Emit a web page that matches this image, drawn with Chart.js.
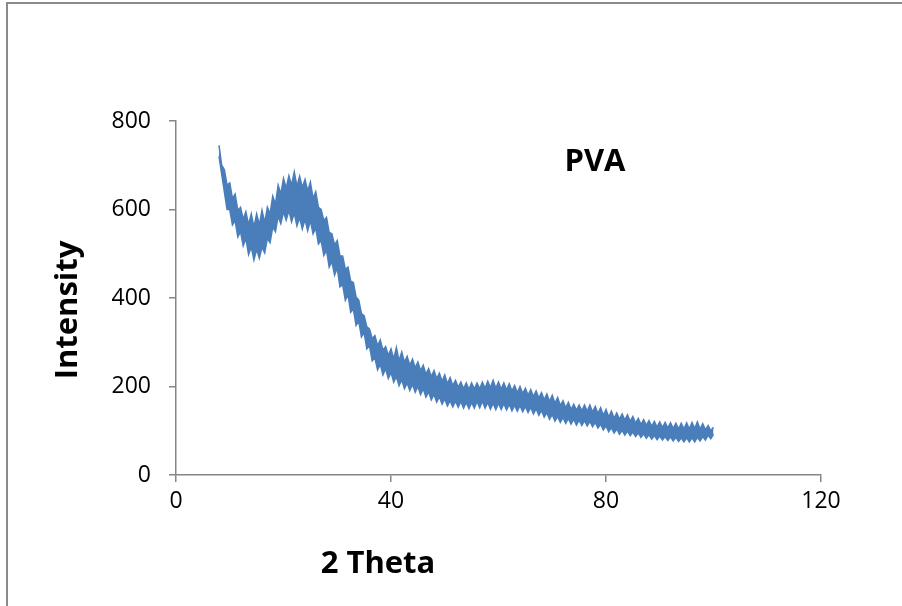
<!DOCTYPE html>
<html>
<head>
<meta charset="utf-8">
<script src="https://cdn.jsdelivr.net/npm/chart.js@4.4.1/dist/chart.umd.min.js"></script>
<style>
  body { margin: 0; background: #fff; }
  #wrap { position: relative; width: 902px; height: 606px; }
  #frame { position: absolute; left: 6px; top: 2px; right: 0; bottom: -4px; border-left: 2px solid #8a8a8a; border-top: 2px solid #8a8a8a; pointer-events: none; }
  canvas { position: absolute; left: 0; top: 0; }
</style>
</head>
<body>
<div id="wrap">
  <canvas id="xrdCanvas" width="902" height="606"></canvas>
  <div id="frame"></div>
</div>
<script>
// 2 theta (deg), every half degree
const theta = [
  8, 8.5, 9, 9.5, 10, 10.5, 11, 11.5, 12, 12.5, 13, 13.5, 14, 14.5, 15, 15.5, 16, 16.5, 17, 17.5,
  18, 18.5, 19, 19.5, 20, 20.5, 21, 21.5, 22, 22.5, 23, 23.5, 24, 24.5, 25, 25.5, 26, 26.5, 27, 27.5,
  28, 28.5, 29, 29.5, 30, 30.5, 31, 31.5, 32, 32.5, 33, 33.5, 34, 34.5, 35, 35.5, 36, 36.5, 37, 37.5,
  38, 38.5, 39, 39.5, 40, 40.5, 41, 41.5, 42, 42.5, 43, 43.5, 44, 44.5, 45, 45.5, 46, 46.5, 47, 47.5,
  48, 48.5, 49, 49.5, 50, 50.5, 51, 51.5, 52, 52.5, 53, 53.5, 54, 54.5, 55, 55.5, 56, 56.5, 57, 57.5,
  58, 58.5, 59, 59.5, 60, 60.5, 61, 61.5, 62, 62.5, 63, 63.5, 64, 64.5, 65, 65.5, 66, 66.5, 67, 67.5,
  68, 68.5, 69, 69.5, 70, 70.5, 71, 71.5, 72, 72.5, 73, 73.5, 74, 74.5, 75, 75.5, 76, 76.5, 77, 77.5,
  78, 78.5, 79, 79.5, 80, 80.5, 81, 81.5, 82, 82.5, 83, 83.5, 84, 84.5, 85, 85.5, 86, 86.5, 87, 87.5,
  88, 88.5, 89, 89.5, 90, 90.5, 91, 91.5, 92, 92.5, 93, 93.5, 94, 94.5, 95, 95.5, 96, 96.5, 97, 97.5,
  98, 98.5, 99, 99.5, 100
];

// upper edge of the noisy intensity band
const intensityHigh = [
  745, 700, 690, 655, 660, 625, 635, 598, 605, 578, 595, 565, 590, 560, 590, 565, 598, 570, 605, 590,
  630, 612, 655, 635, 670, 648, 676, 655, 685, 652, 675, 650, 668, 642, 662, 625, 640, 605, 600, 575,
  582, 548, 545, 520, 530, 495, 495, 465, 470, 438, 435, 402, 395, 365, 360, 335, 330, 308, 315, 292,
  305, 282, 290, 270, 285, 262, 288, 258, 278, 255, 268, 248, 262, 242, 255, 236, 248, 228, 240, 222,
  236, 218, 230, 212, 226, 206, 220, 202, 214, 198, 210, 195, 208, 193, 208, 194, 208, 195, 210, 196,
  212, 197, 214, 196, 210, 194, 208, 192, 206, 190, 202, 186, 200, 184, 196, 180, 193, 177, 190, 174,
  186, 170, 183, 166, 180, 162, 175, 157, 168, 152, 164, 148, 160, 146, 158, 145, 158, 144, 158, 142,
  155, 139, 152, 135, 148, 131, 144, 128, 140, 126, 138, 124, 136, 121, 132, 117, 128, 114, 125, 112,
  123, 110, 121, 108, 120, 107, 119, 106, 118, 105, 117, 104, 117, 104, 118, 104, 119, 105, 120, 104,
  116, 102, 112, 100, 108
];

// lower edge of the noisy intensity band
const intensityLow = [
  720, 680, 640, 600, 600, 565, 575, 538, 550, 518, 535, 498, 515, 486, 510, 490, 515, 502, 535, 525,
  560, 550, 585, 568, 595, 576, 598, 572, 592, 563, 582, 556, 578, 552, 575, 545, 558, 522, 530, 496,
  508, 470, 482, 452, 468, 425, 430, 395, 408, 368, 375, 338, 348, 312, 322, 285, 292, 258, 265, 238,
  250, 226, 240, 218, 232, 210, 222, 202, 215, 195, 208, 191, 205, 187, 200, 182, 195, 176, 188, 170,
  182, 165, 177, 160, 172, 156, 168, 154, 167, 153, 166, 151, 164, 150, 164, 151, 166, 152, 167, 151,
  164, 149, 162, 148, 162, 148, 161, 147, 160, 145, 158, 144, 157, 143, 155, 141, 153, 138, 150, 135,
  146, 131, 141, 126, 137, 122, 132, 119, 130, 117, 128, 115, 126, 113, 124, 112, 123, 111, 121, 109,
  119, 106, 115, 102, 111, 98, 107, 95, 104, 92, 101, 90, 99, 89, 97, 87, 95, 85, 93, 83,
  91, 81, 89, 80, 88, 79, 87, 78, 86, 77, 85, 76, 84, 75, 84, 75, 84, 75, 85, 77,
  87, 79, 90, 82, 92
];

const xTicks = [0, 40, 80, 120];
const yTicks = [0, 200, 400, 600, 800];

const axisGrey = "#868686";
const lineBlue = "#4a7ebb";

const textPlugin = {
  id: "labels",
  afterDraw(chart) {
    const ctx = chart.ctx;
    ctx.save();
    ctx.fillStyle = "#000";
    ctx.font = "bold 31px 'Open Sans'";
    ctx.textAlign = "center";
    ctx.textBaseline = "middle";
    ctx.fillText("PVA", 595, 162);
    ctx.fillText("2 Theta", 378, 564);
    ctx.translate(68, 310);
    ctx.rotate(-Math.PI / 2);
    ctx.fillText("Intensity", 0, 0);
    ctx.restore();
  },
};

const data = {
  datasets: [
    {
      label: "PVA high",
      data: theta.map((t, i) => ({ x: t, y: intensityHigh[i] })),
      borderColor: lineBlue,
      borderWidth: 1.5,
      pointRadius: 0,
      tension: 0,
      fill: false,
    },
    {
      label: "PVA low",
      data: theta.map((t, i) => ({ x: t, y: intensityLow[i] })),
      borderColor: lineBlue,
      backgroundColor: lineBlue,
      borderWidth: 1.5,
      pointRadius: 0,
      tension: 0,
      fill: "-1",
    },
  ],
};

const config = {
  type: "line",
  data: data,
  options: {
    responsive: false,
    animation: false,
    layout: { padding: { left: 0, top: 121, right: 81, bottom: 0 } },
    plugins: {
      legend: { display: false },
      tooltip: { enabled: false },
    },
    scales: {
      x: {
        type: "linear",
        min: 0,
        max: 120,
        afterBuildTicks: (axis) => { axis.ticks = xTicks.map((v) => ({ value: v })); },
        afterFit: (axis) => { axis.height = 606 - 475; },
        border: { color: axisGrey, width: 1.5 },
        grid: { drawOnChartArea: false, drawTicks: true, tickLength: 7, color: axisGrey, lineWidth: 1.5 },
        ticks: { color: "#000", font: { family: "Open Sans", size: 23 }, padding: 6, maxRotation: 0 },
      },
      y: {
        min: 0,
        max: 800,
        afterBuildTicks: (axis) => { axis.ticks = yTicks.map((v) => ({ value: v })); },
        afterFit: (axis) => { axis.width = 176; },
        border: { color: axisGrey, width: 1.5 },
        grid: { drawOnChartArea: false, drawTicks: true, tickLength: 7, color: axisGrey, lineWidth: 1.5 },
        ticks: { color: "#000", font: { family: "Open Sans", size: 23 }, padding: 18 },
      },
    },
  },
  plugins: [textPlugin],
};

const canvas = document.getElementById("xrdCanvas");
if (canvas) {
  const ctx = canvas.getContext("2d");
  new Chart(ctx, config);
} else {
  console.error("canvas not found");
}
</script>
</body>
</html>
